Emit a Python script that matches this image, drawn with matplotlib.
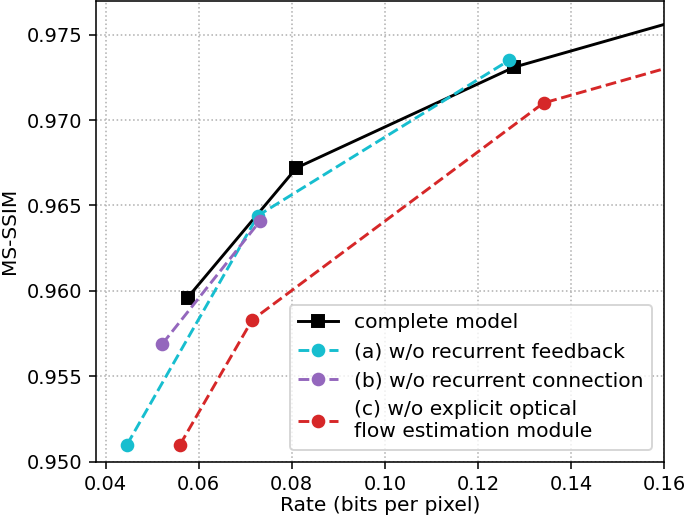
"""Rate-distortion ablation plot: MS-SSIM vs. rate for the complete model and three variants."""

import matplotlib

matplotlib.use("Agg")
import matplotlib.pyplot as plt

# values (last points of black/red lie beyond the x limit)
complete_rate = [0.0576, 0.0810, 0.1278, 0.2000]
complete_ssim = [0.9596, 0.9672, 0.9731, 0.9787]

no_feedback_rate = [0.0446, 0.0727, 0.1267]
no_feedback_ssim = [0.9510, 0.9644, 0.9735]

no_connection_rate = [0.0522, 0.0732]
no_connection_ssim = [0.9569, 0.9641]

no_flow_rate = [0.0560, 0.0715, 0.1341, 0.2000]
no_flow_ssim = [0.9510, 0.9583, 0.9710, 0.9761]

x_ticks = [0.04, 0.06, 0.08, 0.10, 0.12, 0.14, 0.16]
y_ticks = [0.950, 0.955, 0.960, 0.965, 0.970, 0.975]


def main() -> None:
    fig = plt.figure(figsize=(685 / 140, 519 / 140), dpi=140)
    ax = fig.add_axes([0.1406, 0.1104, 0.8288, 0.8886])

    ax.plot(complete_rate, complete_ssim, "s-", color="black", label="complete model")
    ax.plot(no_feedback_rate, no_feedback_ssim, "o--", color="tab:cyan",
            label="(a) w/o recurrent feedback")
    ax.plot(no_connection_rate, no_connection_ssim, "o--", color="tab:purple",
            label="(b) w/o recurrent connection")
    ax.plot(no_flow_rate, no_flow_ssim, "o--", color="tab:red",
            label="(c) w/o explicit optical\nflow estimation module")

    ax.set_xlim(0.038, 0.16)
    ax.set_ylim(0.950, 0.977)
    ax.set_xticks(x_ticks)
    ax.set_xticklabels([f"{v:.2f}" for v in x_ticks])
    ax.set_yticks(y_ticks)
    ax.set_yticklabels([f"{v:.3f}" for v in y_ticks])
    ax.grid(True, linestyle=":", color="#b0b0b0", linewidth=0.8)

    ax.set_xlabel("Rate (bits per pixel)", fontsize=10.4, labelpad=1)
    ax.set_ylabel("MS-SSIM", fontsize=10.3)
    ax.legend(loc="lower right", fontsize=10.4, borderaxespad=0.6)

    fig.savefig("out.png", dpi=140)
    plt.close(fig)


if __name__ == "__main__":
    main()
